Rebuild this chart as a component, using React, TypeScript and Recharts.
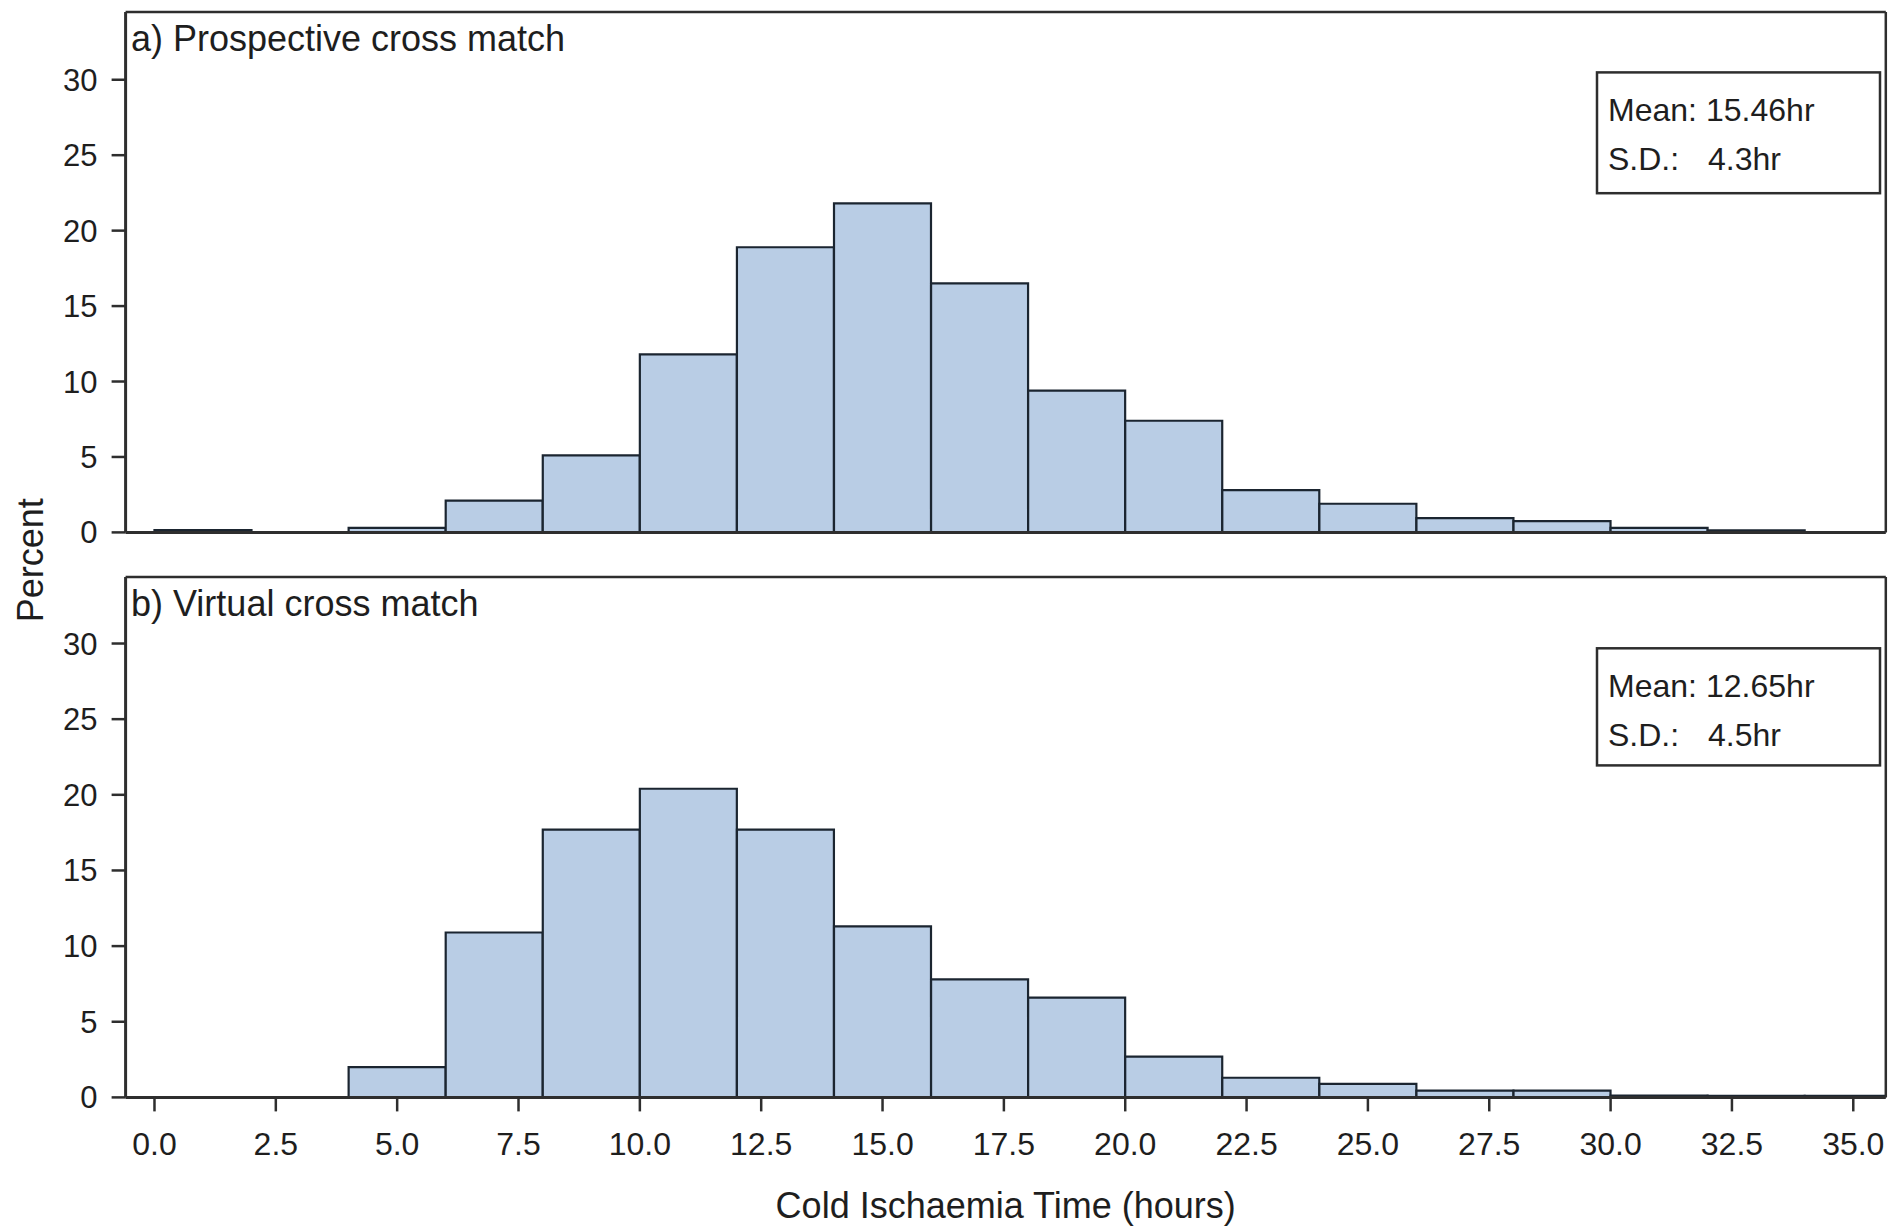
import React from 'react';
import { BarChart, Bar, XAxis, YAxis } from 'recharts';

// ---- data ----
const binStarts = [0, 2, 4, 6, 8, 10, 12, 14, 16, 18, 20, 22, 24, 26, 28, 30, 32, 34];
const binWidth = 2;
const prospectivePercent = [0.15, 0, 0.3, 2.1, 5.1, 11.8, 18.9, 21.8, 16.5, 9.4, 7.4, 2.8, 1.9, 0.95, 0.75, 0.3, 0.13, 0];
const virtualPercent = [0, 0, 2.0, 10.9, 17.7, 20.4, 17.7, 11.3, 7.8, 6.6, 2.7, 1.3, 0.9, 0.45, 0.45, 0.12, 0.1, 0.1];
const xTicks = [0, 2.5, 5, 7.5, 10, 12.5, 15, 17.5, 20, 22.5, 25, 27.5, 30, 32.5, 35];
const yTicks = [0, 5, 10, 15, 20, 25, 30];
const panelTitles = ['a) Prospective cross match', 'b) Virtual cross match'];
const statLabels = ['Mean:', 'S.D.:'];
const prospectiveStats = ['15.46hr', '4.3hr'];
const virtualStats = ['12.65hr', '4.5hr'];
const xAxisTitle = 'Cold Ischaemia Time (hours)';
const yAxisTitle = 'Percent';

const topData = binStarts.map((s, i) => ({ mid: s + binWidth / 2, value: prospectivePercent[i] }));
const bottomData = binStarts.map((s, i) => ({ mid: s + binWidth / 2, value: virtualPercent[i] }));

const X_DOMAIN: [number, number] = [-0.595, 35.67];
const AX = '#2e2e2e';
const TXT = '#1e1e1e';
const FILL = '#b9cde5';
const EDGE = '#1b2530';
const FONT = '"Liberation Sans", Arial, sans-serif';

function Panel({ data, height, margin, yTop, showX }: any) {
  return (
    <BarChart
      width={1893}
      height={height}
      data={data}
      margin={margin}
      barCategoryGap={0}
      barGap={0}
    >
      <XAxis
        xAxisId="b"
        dataKey="mid"
        type="number"
        domain={X_DOMAIN}
        allowDataOverflow
        ticks={xTicks}
        tickFormatter={(v: number) => v.toFixed(1)}
        tick={showX ? { fill: TXT, fontSize: 32, fontFamily: FONT } : false}
        tickLine={showX ? { stroke: AX, strokeWidth: 2.5 } : false}
        tickSize={14}
        tickMargin={21}
        height={showX ? 128.6 : 1}
        axisLine={{ stroke: AX, strokeWidth: 3 }}
      />
      <XAxis
        xAxisId="t"
        orientation="top"
        type="number"
        domain={X_DOMAIN}
        allowDataOverflow
        tick={false}
        tickLine={false}
        height={1}
        axisLine={{ stroke: AX, strokeWidth: 2.5 }}
      />
      <YAxis
        yAxisId="l"
        type="number"
        domain={[0, yTop]}
        allowDataOverflow
        ticks={yTicks}
        tick={{ fill: TXT, fontSize: 31, fontFamily: FONT }}
        tickLine={{ stroke: AX, strokeWidth: 2.5 }}
        tickSize={14}
        tickMargin={14}
        width={125.6}
        axisLine={{ stroke: AX, strokeWidth: 3 }}
      />
      <YAxis
        yAxisId="r"
        orientation="right"
        type="number"
        domain={[0, yTop]}
        tick={false}
        tickLine={false}
        width={1}
        axisLine={{ stroke: AX, strokeWidth: 2.5 }}
      />
      <Bar
        xAxisId="b"
        yAxisId="l"
        dataKey="value"
        fill={FILL}
        stroke={EDGE}
        strokeWidth={2.2}
        isAnimationActive={false}
      />
    </BarChart>
  );
}

function StatBox({ x, y, w, h, values, b1, b2 }: any) {
  return (
    <g>
      <rect x={x} y={y} width={w} height={h} fill="#fff" stroke={AX} strokeWidth={2.5} />
      <text x={x + 11} y={b1} fontSize={32} fill={TXT} fontFamily={FONT}>{statLabels[0]}</text>
      <text x={x + 109} y={b1} fontSize={32} fill={TXT} fontFamily={FONT}>{values[0]}</text>
      <text x={x + 11} y={b2} fontSize={32} fill={TXT} fontFamily={FONT}>{statLabels[1]}</text>
      <text x={x + 111} y={b2} fontSize={32} fill={TXT} fontFamily={FONT}>{values[1]}</text>
    </g>
  );
}

export default function App() {
  return (
    <div style={{ position: 'relative', width: 1893, height: 1226, background: '#fff', fontFamily: FONT }}>
      <style>{`body{margin:0;}`}</style>
      <div style={{ position: 'absolute', left: 0, top: 0 }}>
        <Panel
          data={topData}
          height={560}
          margin={{ top: 11, right: 6.2, left: 0, bottom: 26.6 }}
          yTop={34.49}
          showX={false}
        />
      </div>
      <div style={{ position: 'absolute', left: 0, top: 560 }}>
        <Panel
          data={bottomData}
          height={666}
          margin={{ top: 16.1, right: 6.2, left: 0, bottom: 0 }}
          yTop={34.39}
          showX={true}
        />
      </div>
      <svg
        width={1893}
        height={1226}
        style={{ position: 'absolute', left: 0, top: 0, pointerEvents: 'none' }}
      >
        <text x={131} y={51} fontSize={36} fill={TXT} fontFamily={FONT}>{panelTitles[0]}</text>
        <text x={131} y={616} fontSize={36} fill={TXT} fontFamily={FONT}>{panelTitles[1]}</text>
        <StatBox x={1597} y={72.4} w={283} h={120.8} values={prospectiveStats} b1={121.3} b2={169.6} />
        <StatBox x={1597} y={648.3} w={283} h={117.1} values={virtualStats} b1={697} b2={745.5} />
        <text
          x={30.2}
          y={560.2}
          fontSize={36}
          fill={TXT}
          fontFamily={FONT}
          textAnchor="middle"
          dominantBaseline="central"
          transform="rotate(-90 30.2 560.2)"
        >
          {yAxisTitle}
        </text>
        <text x={1005.7} y={1218} fontSize={36} fill={TXT} fontFamily={FONT} textAnchor="middle">
          {xAxisTitle}
        </text>
      </svg>
    </div>
  );
}
